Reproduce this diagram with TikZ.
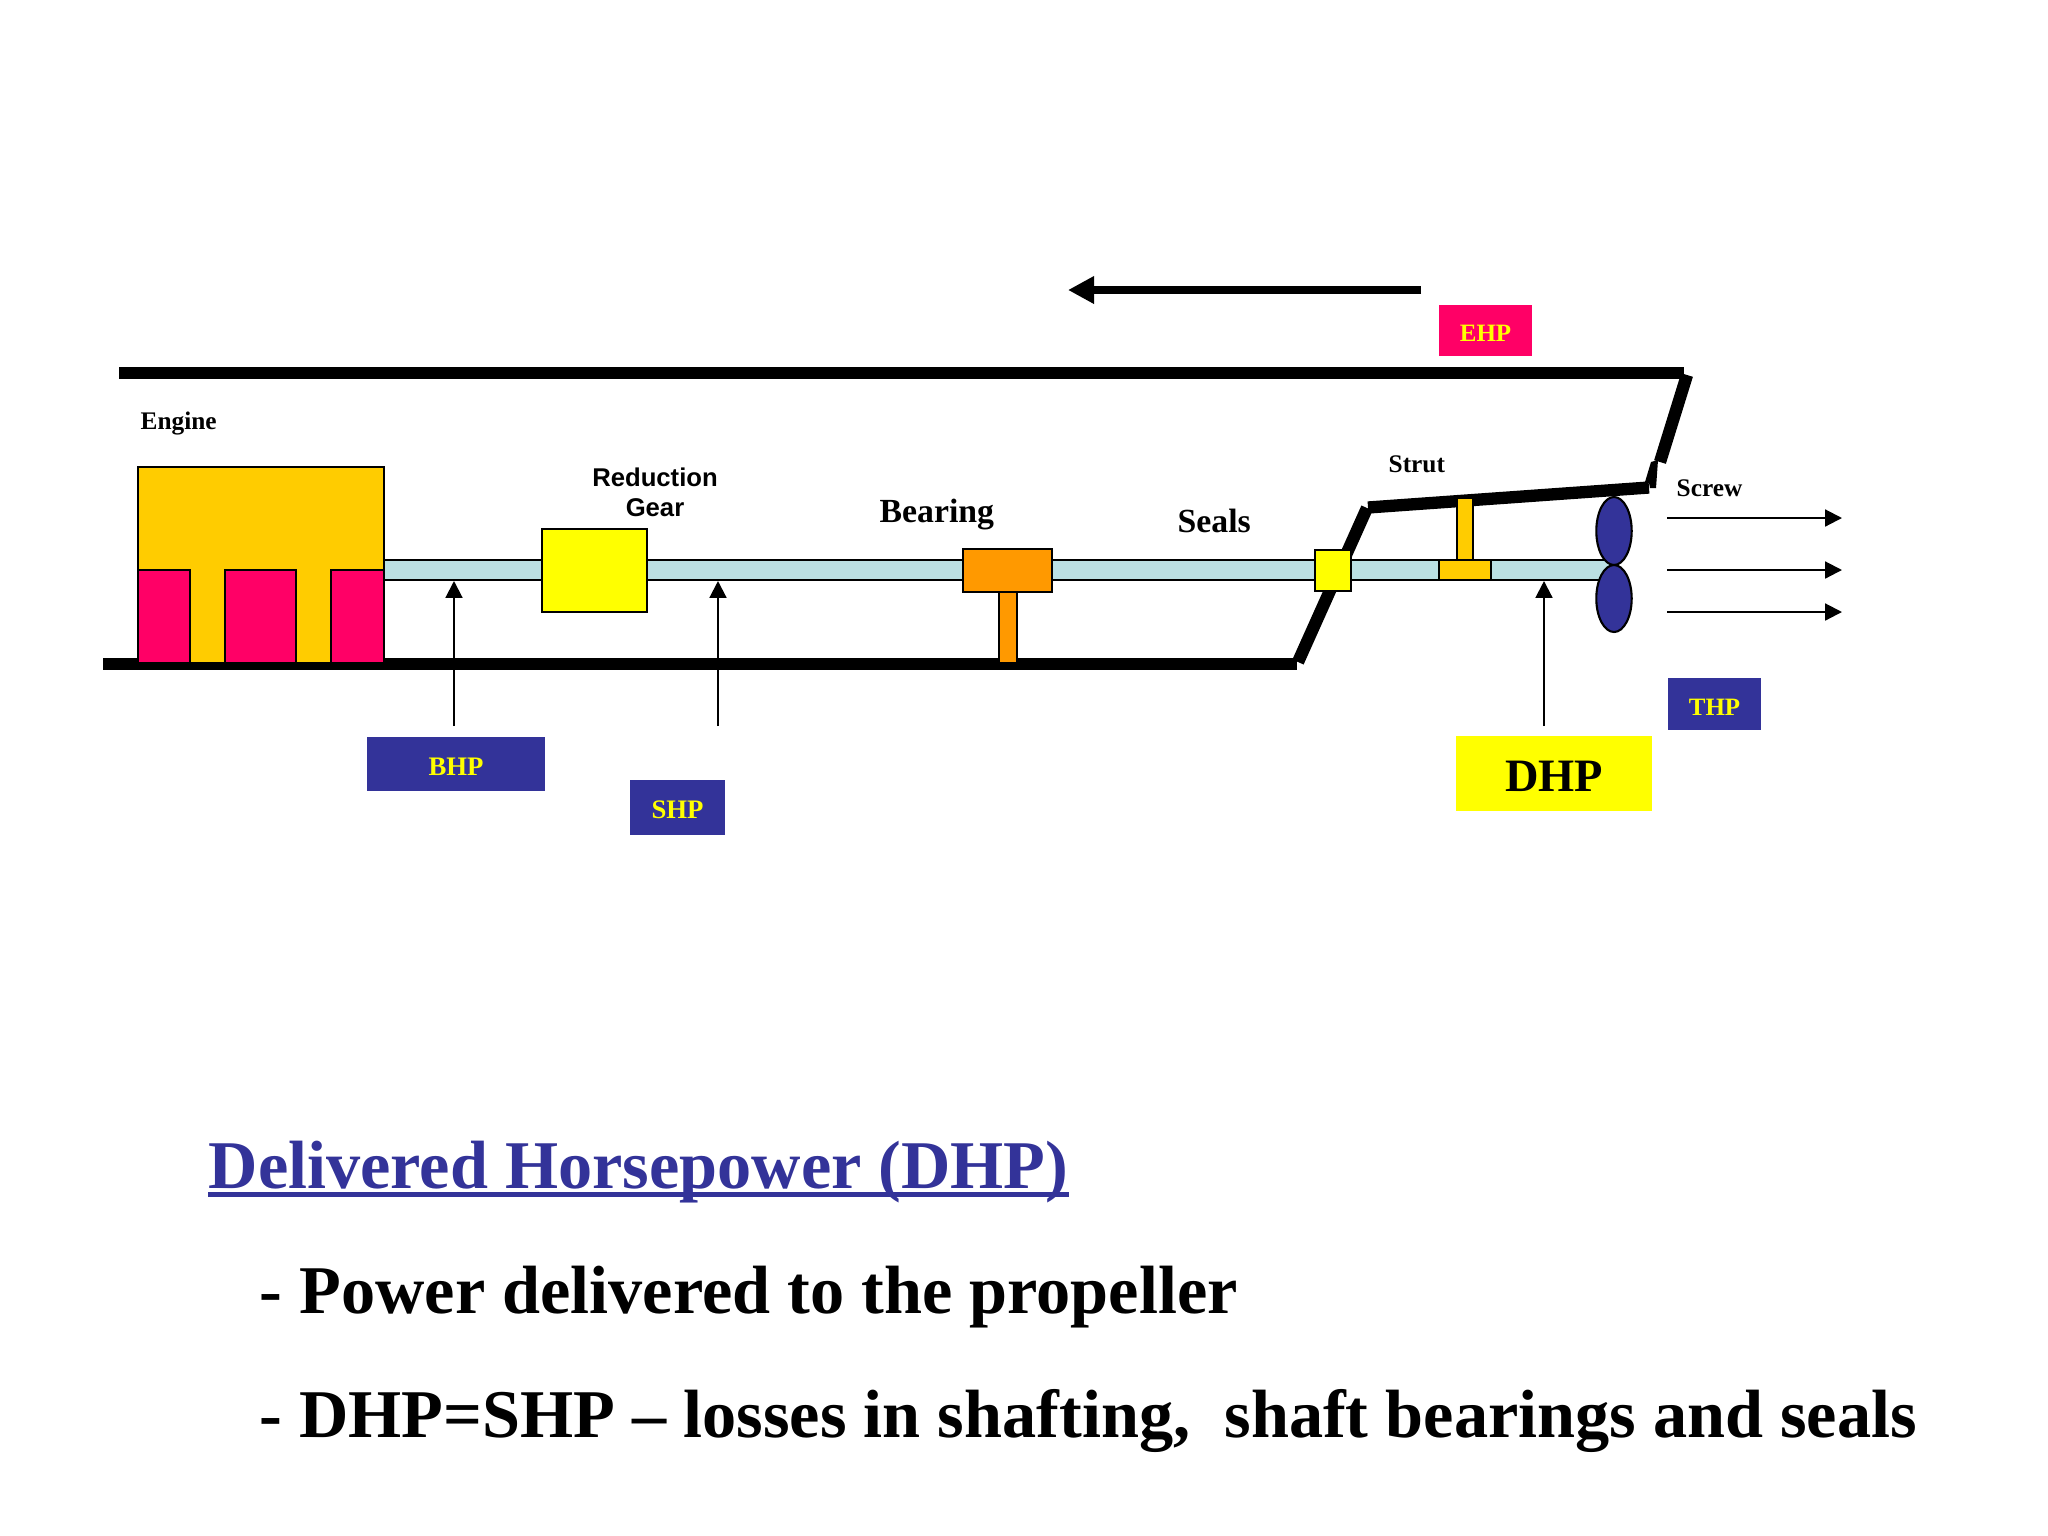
\documentclass[tikz,border=0pt]{standalone}
\usepackage{fontspec}
\setmainfont{Liberation Serif}
\setsansfont{Liberation Sans}
\usetikzlibrary{arrows.meta}
\definecolor{navyhp}{HTML}{333399}
\definecolor{pinkhp}{HTML}{FF0066}
\definecolor{goldhp}{HTML}{FFCC00}
\definecolor{yellowhp}{HTML}{FFFF00}
\definecolor{orangehp}{HTML}{FF9900}
\definecolor{shafthp}{HTML}{BBE0E3}
\tikzset{
  hull/.style={line width=3.5pt},
  part/.style={draw=black,line width=0.6pt},
  txt/.style={inner sep=0pt,anchor=base west,font=\fontsize{#1}{#1}\selectfont\bfseries},
  hpbox/.style={inner sep=0pt,text depth=0pt,text height=6.4pt,text=yellowhp,font=\fontsize{7.6}{8}\selectfont\bfseries},
  ptr/.style={line width=0.6pt,-{Triangle[length=4.8pt,width=4.8pt]}}
}
\begin{document}
\begin{tikzpicture}[x=0.01cm,y=-0.01cm]
\useasboundingbox (0,0) rectangle (2048,1536);

% hull
\draw[hull] (119,373) -- (1684,373);
\draw[hull] (103,664) -- (1297,664);
\draw[hull] (1298,662) -- (1367,508);
\draw[hull] (1368,507.5) -- (1649,487.5);
\draw[hull] (1687,375) -- (1660,462);
\fill (1658,460) -- (1651,462) -- (1645,482) -- (1649,483) -- (1650,488) -- (1656,488) -- cycle;

% shaft
\draw[part,fill=shafthp] (384,560) rectangle (1610,580);

% engine
\draw[part,fill=goldhp] (138,467) rectangle (384,663);
\foreach \xa/\xb in {138/190,225/296,331/384}
  \draw[part,fill=pinkhp] (\xa,570) rectangle (\xb,663);

% gear, bearing, seal, strut
\draw[part,fill=yellowhp] (542,529) rectangle (647,612);
\draw[part,fill=orangehp] (999,592) rectangle (1017,663);
\draw[part,fill=orangehp] (963,549) rectangle (1052,592);
\draw[part,fill=yellowhp] (1315,550) rectangle (1351,591);
\draw[part,fill=goldhp] (1457,498) rectangle (1473,560);
\draw[part,fill=goldhp] (1439,560) rectangle (1491,580);

% screw
\draw[part,fill=navyhp] (1614,531) ellipse [x radius=17.7,y radius=34];
\draw[part,fill=navyhp] (1614,598.5) ellipse [x radius=17.7,y radius=33.5];

% labels
\node[txt=7.2] (engine) at (140,429) {Engine};
\node[inner sep=0pt,font=\fontsize{7.3}{8.6}\selectfont\sffamily\bfseries,align=center] (gear) at (655,492.5) {Reduction\\Gear};
\node[txt=9.6] (bearing) at (879,522) {Bearing};
\node[txt=9.6] (seals) at (1177,532) {Seals};
\node[txt=7.2] (strut) at (1388,472) {Strut};
\node[txt=7.2] (screw) at (1676,496) {Screw};

% power boxes
\node[hpbox,fill=navyhp,minimum width=1.78cm,minimum height=0.54cm] (bhp) at (456,764) {BHP};
\node[hpbox,fill=navyhp,minimum width=0.95cm,minimum height=0.55cm] (shp) at (677.5,807.5) {SHP};
\node[hpbox,fill=navyhp,minimum width=0.93cm,minimum height=0.52cm,font=\fontsize{7.1}{8}\selectfont\bfseries] (thp) at (1714.5,704) {THP};
\node[hpbox,fill=pinkhp,minimum width=0.93cm,minimum height=0.51cm,font=\fontsize{7.1}{8}\selectfont\bfseries] (ehp) at (1485.5,330.5) {EHP};
\node[hpbox,fill=yellowhp,text=black,text height=10pt,minimum width=1.96cm,minimum height=0.75cm,font=\fontsize{13.2}{14}\selectfont\bfseries] (dhp) at (1554,773.5) {DHP};

% arrows
\coordinate (bhpfoot) at (454,726);
\coordinate (bhptip) at (454,581);
\coordinate (shpfoot) at (718,726);
\coordinate (shptip) at (718,581);
\coordinate (dhpfoot) at (1544,726);
\coordinate (dhptip) at (1544,581);
\draw[ptr] (bhpfoot) -- (bhptip);
\draw[ptr] (shpfoot) -- (shptip);
\draw[ptr] (dhpfoot) -- (dhptip);
\foreach \y/\n in {518/a,570/b,612/c}{
  \coordinate (thrust\n) at (1667,\y);
  \coordinate (tip\n) at (1842,\y);
  \draw[ptr] (thrust\n) -- (tip\n);
}
\coordinate (shipstart) at (1421,290);
\coordinate (shipend) at (1068,290);
\draw[line width=2.3pt,-{Triangle[length=7.4pt,width=7.4pt]}] (shipstart) -- (shipend);

% text
\node[txt=19.42,text=navyhp] (title) at (208,1188.5) {Delivered Horsepower (DHP)};
\draw[navyhp,line width=1.15pt] ([yshift=-1.7pt]title.base west) -- ([yshift=-1.7pt]title.base east);
\node[txt=19.42] (lineone) at (259,1313.5) {- Power delivered to the propeller};
\node[txt=19.42] (linetwo) at (259,1437.5) {- DHP=SHP -- losses in shafting,\ \ shaft bearings and seals};

\end{tikzpicture}
\end{document}
